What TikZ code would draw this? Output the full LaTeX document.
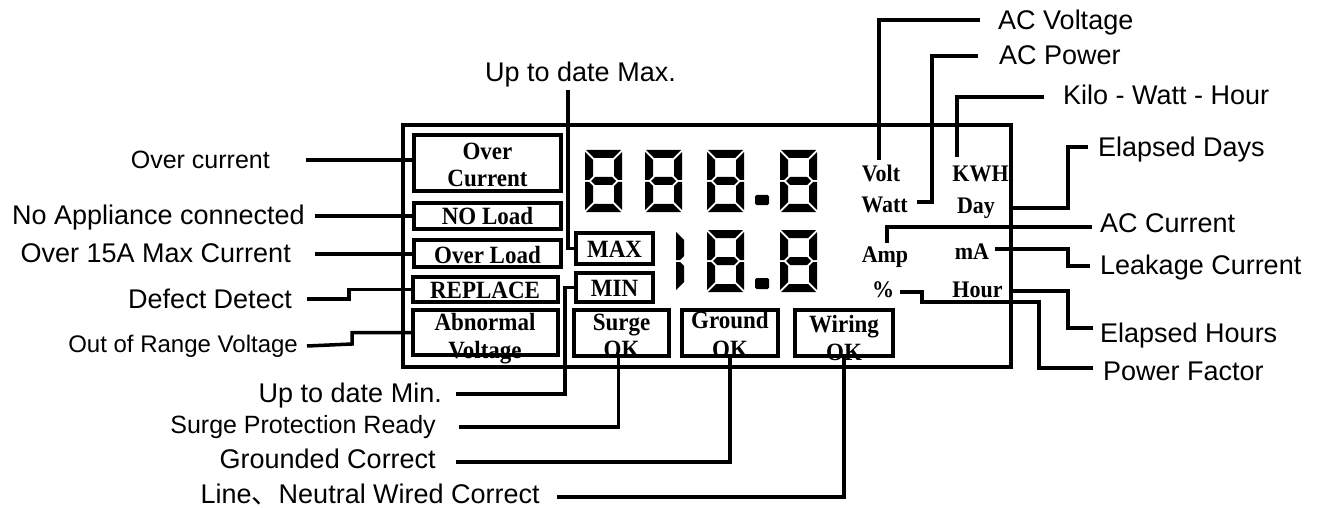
\documentclass[tikz,border=0pt]{standalone}
\usepackage{fontspec}
\usepackage{graphicx}
\setmainfont{Liberation Sans}
\newfontfamily\serifb{Liberation Serif}
\newfontfamily\cjkf{Noto Sans CJK SC}
\newcommand{\tb}[1]{\scalebox{1}[1.08]{#1}}
\newcommand{\segA}{\fill (1,0)--(36,0)--(28,8)--(9,8)--cycle;}
\newcommand{\segB}{\fill (37,2)--(37,30)--(33,30)--(29,26)--(29,10)--cycle;}
\newcommand{\segC}{\fill (37,32)--(33,32)--(29,36)--(29,52)--(37,60)--cycle;}
\newcommand{\segD}{\fill (1,62)--(36,62)--(28,54)--(9,54)--cycle;}
\newcommand{\segE}{\fill (0,32)--(4,32)--(8,36)--(8,52)--(0,60)--cycle;}
\newcommand{\segF}{\fill (0,2)--(8,10)--(8,26)--(4,30)--(0,30)--cycle;}
\newcommand{\segG}{\fill (6,31)--(10,27)--(27,27)--(31,31)--(27,35)--(10,35)--cycle;}
\newcommand{\eightdigit}[2]{\begin{scope}[shift={(#1,#2)}]\segA\segB\segC\segD\segE\segF\segG\end{scope}}
\newcommand{\onedigit}[2]{\begin{scope}[shift={(#1,#2)}]\segE\segF\end{scope}}
\begin{document}
\begin{tikzpicture}[x=1pt,y=-1pt,
  conn/.style={line width=3.5pt},
  panel/.style={draw, line width=4pt, inner sep=0pt, outer sep=0pt},
  sans/.style={inner sep=0pt, font=\fontsize{27}{30}\selectfont},
  sanss/.style={inner sep=0pt, font=\fontsize{25}{28}\selectfont},
  sansx/.style={inner sep=0pt, font=\fontsize{24}{27}\selectfont},
  boldl/.style={inner sep=0pt, anchor=base, font=\serifb\bfseries\fontsize{23}{26}\selectfont},
  unitl/.style={inner sep=0pt, anchor=base, font=\serifb\bfseries\fontsize{22}{25}\selectfont}]
\useasboundingbox (0,0) rectangle (1318,508);

% ---------- texts inside boxes ----------
\node[boldl] (tOver) at (487.5,160) {\tb{Over}};
\node[boldl] (tCurrent) at (487.5,186) {\tb{Current}};
\node[boldl] (tNoLoad) at (487.5,225) {\tb{NO Load}};
\node[boldl] (tOverLoad) at (487.5,263) {\tb{Over Load}};
\node[boldl] (tReplace) at (485,298) {\tb{REPLACE}};
\node[boldl] (tAbnormal) at (485,330) {\tb{Abnormal}};
\node[boldl] (tVoltage) at (485,358) {\tb{Voltage}};
\node[boldl] (tMax) at (614.5,257) {\tb{MAX}};
\node[boldl] (tMin) at (614.5,296) {\tb{MIN}};
\node[boldl] (tSurge) at (621.5,330) {\tb{Surge}};
\node[boldl] (tSurgeOK) at (621.5,357) {\tb{OK}};
\node[boldl] (tGround) at (730,328) {\tb{Ground}};
\node[boldl] (tGroundOK) at (730,357) {\tb{OK}};
\node[boldl] (tWiring) at (844,332) {\tb{Wiring}};
\node[boldl] (tWiringOK) at (844,360) {\tb{OK}};

% ---------- unit labels ----------
\node[unitl] (uVolt) at (881,182) {\tb{Volt}};
\node[unitl] (uWatt) at (884.5,212) {\tb{Watt}};
\node[unitl] (uKWH) at (980.5,182) {\tb{KWH}};
\node[unitl] (uDay) at (976,213) {\tb{Day}};
\node[unitl] (uAmp) at (885,262) {\tb{Amp}};
\node[unitl] (umA) at (972,259) {\tb{mA}};
\node[unitl] (uPct) at (883,297) {\tb{\%}};
\node[unitl] (uHour) at (977.5,297) {\tb{Hour}};

% ---------- boxes ----------
\node[panel, minimum width=608pt, minimum height=242pt] (lcd) at (707,246) {};
\node[panel, minimum width=147pt, minimum height=56pt] (bOC) at (487.5,163) {};
\node[panel, minimum width=147pt, minimum height=26pt] (bNL) at (487.5,216) {};
\node[panel, minimum width=147pt, minimum height=27pt] (bOL) at (487.5,253.5) {};
\node[panel, minimum width=145pt, minimum height=25pt] (bRP) at (485,289.5) {};
\node[panel, minimum width=145pt, minimum height=45pt] (bAV) at (485,332.5) {};
\node[panel, minimum width=77pt, minimum height=31pt] (bMAX) at (614.5,248.5) {};
\node[panel, minimum width=77pt, minimum height=29pt] (bMIN) at (614.5,287.5) {};
\node[panel, minimum width=95pt, minimum height=46pt] (bSurge) at (621.5,333) {};
\node[panel, minimum width=96pt, minimum height=46pt] (bGround) at (730,333) {};
\node[panel, minimum width=98pt, minimum height=46pt] (bWiring) at (844,333) {};

% ---------- seven-segment digits ----------
\eightdigit{585}{150}
\eightdigit{645}{150}
\eightdigit{707}{150}
\fill[rounded corners=1.5pt] (755,195) rectangle (769,205);
\eightdigit{780}{150}
\onedigit{676}{230}
\eightdigit{707}{230}
\fill[rounded corners=1.5pt] (755,278) rectangle (769,289);
\eightdigit{780}{230}

% ---------- outside labels ----------
\node[sanss, anchor=base east] (lOverCur) at (270,168) {Over current};
\node[sans, anchor=base east] (lNoApp) at (305,225) {No Appliance connected};
\node[sans, anchor=base east] (lOver15) at (291,262) {Over 15A Max Current};
\node[sans, anchor=base east] (lDefect) at (292,308) {Defect Detect};
\node[sansx, anchor=base east] (lOutRange) at (298,352) {Out of Range Voltage};
\node[sans, anchor=base west] (lUpMax) at (485,82) {Up to date Max.};
\node[sans, anchor=base east] (lUpMin) at (442,402) {Up to date Min.};
\node[sanss, anchor=base east] (lSurge) at (436,433) {Surge Protection Ready};
\node[sans, anchor=base east] (lGround) at (436,468) {Grounded Correct};
\node[sans, anchor=base east] (lLine) at (540,503) {Line{\cjkf 、}Neutral Wired Correct};
\node[sans, anchor=base west] (lACV) at (998,30) {AC Voltage};
\node[sans, anchor=base west] (lACP) at (999,65) {AC Power};
\node[sans, anchor=base west] (lKWH) at (1063,105) {Kilo - Watt - Hour};
\node[sans, anchor=base west] (lDays) at (1098,157) {Elapsed Days};
\node[sans, anchor=base west] (lACC) at (1100,233) {AC Current};
\node[sans, anchor=base west] (lLeak) at (1100,274) {Leakage Current};
\node[sans, anchor=base west] (lHours) at (1100,342) {Elapsed Hours};
\node[sans, anchor=base west] (lPF) at (1103,380) {Power Factor};

% ---------- connector ends ----------
\coordinate (cOC) at (306,160);
\coordinate (cNA) at (315,216);
\coordinate (cO15) at (315,254);
\coordinate (cDD) at (307,299);
\coordinate (cOR) at (307,346);
\coordinate (cUMax) at (568,90);
\coordinate (cUMin) at (456,394);
\coordinate (cSP) at (459,427);
\coordinate (cGC) at (456,462);
\coordinate (cLN) at (557,497);
\coordinate (cACV) at (980,20);
\coordinate (cVolt) at (879,160);
\coordinate (cACP) at (978,56);
\coordinate (cWatt) at (917,202);
\coordinate (cKWH) at (1044,97);
\coordinate (cKWHe) at (957,157);
\coordinate (cDays) at (1088,147);
\coordinate (cDayE) at (1011,208);
\coordinate (cACC) at (1092,227);
\coordinate (cAmp) at (887,243);
\coordinate (cmA) at (995,249);
\coordinate (cLeak) at (1090,266);
\coordinate (cHourE) at (1011,291);
\coordinate (cHours) at (1093,328);
\coordinate (cPct) at (900,292);
\coordinate (cPF) at (1093,368);

% ---------- connectors ----------
\draw[conn] (cOC) -- (cOC -| bOC.west);
\draw[conn] (cNA) -- (cNA -| bNL.west);
\draw[conn] (cO15) -- (cO15 -| bOL.west);
\draw[conn] (cDD) -- (349,299) |- (bRP.west);
\draw[conn] (cOR) -- (352,344) |- (bAV.west);
\draw[conn] (cUMax) |- (bMAX.west);
\draw[conn] (bMIN.west) -| (565,394) -- (cUMin);
\draw[conn] ([xshift=-3pt]bSurge.south) |- (cSP);
\draw[conn] (bGround.south) |- (cGC);
\draw[conn] (bWiring.south) |- (cLN);
\draw[conn] (cACV) -| (cVolt);
\draw[conn] (cACP) -| (932,202) -- (cWatt);
\draw[conn] (cKWH) -| (cKWHe);
\draw[conn] (cDays) -| (1068,208) -- (cDayE);
\draw[conn] (cACC) -| (cAmp);
\draw[conn] (cmA) -| (1068,266) -- (cLeak);
\draw[conn] (cHourE) -| (1068,328) -- (cHours);
\draw[conn] (cPct) -| (922,302) -| (1039,368) -- (cPF);
\end{tikzpicture}
\end{document}
